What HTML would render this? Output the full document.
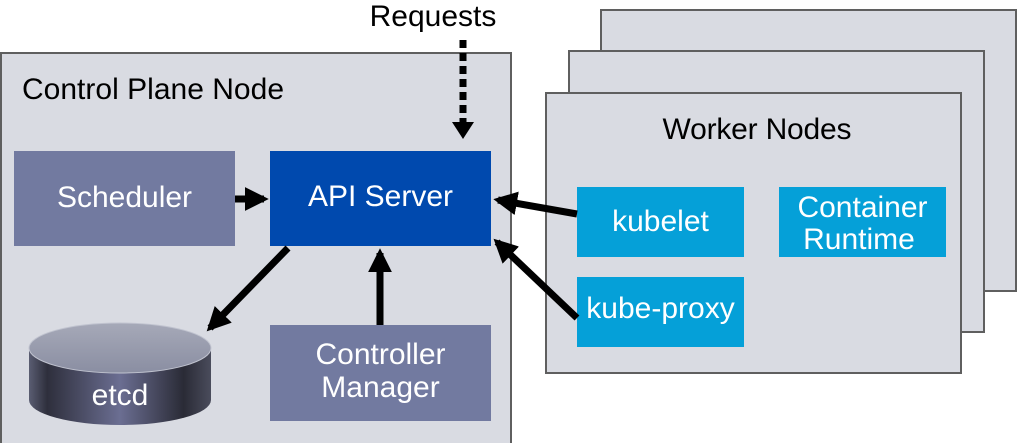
<!DOCTYPE html>
<html><head><meta charset="utf-8"><style>
html,body{margin:0;padding:0;background:#fff;}
svg{display:block;}
text{font-family:"Liberation Sans",Arial,sans-serif;font-size:30px;}
</style></head><body>
<svg width="1018" height="443" viewBox="0 0 1018 443" xmlns="http://www.w3.org/2000/svg">
<defs>
<linearGradient id="cyl" x1="0" x2="1" y1="0" y2="0">
<stop offset="0" stop-color="#5a5d72"/><stop offset="0.1" stop-color="#2e2f3c"/>
<stop offset="0.5" stop-color="#6b6e92"/><stop offset="0.85" stop-color="#2a2b36"/>
<stop offset="1" stop-color="#4a4c5c"/></linearGradient>
<linearGradient id="top" x1="0" x2="0" y1="0" y2="1">
<stop offset="0" stop-color="#a6a9b8"/><stop offset="1" stop-color="#8a8ea2"/></linearGradient>
<marker id="ah" viewBox="0 0 10 10" refX="8" refY="5" markerWidth="3.4" markerHeight="3.4" orient="auto"><path d="M0,0L10,5L0,10z" fill="#000"/></marker>
</defs>
<rect x="601" y="10" width="415" height="281" fill="#d9dbe2" stroke="#5f5f5f" stroke-width="2"/>
<rect x="569" y="51" width="415" height="281" fill="#d9dbe2" stroke="#5f5f5f" stroke-width="2"/>
<rect x="546" y="93" width="415" height="280" fill="#d9dbe2" stroke="#5f5f5f" stroke-width="2"/>
<text x="757" y="139" text-anchor="middle" textLength="189">Worker Nodes</text>
<rect x="1" y="53" width="510" height="392" fill="#d9dbe2" stroke="#5f5f5f" stroke-width="2"/>
<text x="22" y="99" textLength="262">Control Plane Node</text>
<text x="433" y="26" text-anchor="middle">Requests</text>
<line x1="463" y1="40" x2="463" y2="126" stroke="#000" stroke-width="7" stroke-dasharray="8,5"/>
<path d="M452,122L474,122L463,139z" fill="#000"/>
<rect x="14" y="151" width="221" height="95" fill="#727aa0"/>
<text x="124.5" y="207" text-anchor="middle" fill="#fff">Scheduler</text>
<rect x="270" y="151" width="221" height="95" fill="#0049ae"/>
<text x="380.5" y="206" text-anchor="middle" fill="#fff">API Server</text>
<rect x="270" y="325" width="221" height="96" fill="#727aa0"/>
<text x="380.5" y="364" text-anchor="middle" fill="#fff">Controller</text>
<text x="380.5" y="397" text-anchor="middle" fill="#fff">Manager</text>
<path d="M29,348 L29,400 A91,25 0 0 0 211,400 L211,348 Z" fill="url(#cyl)"/>
<ellipse cx="120" cy="348" rx="91" ry="25" fill="url(#top)" stroke="#c0c3cf" stroke-width="1"/>
<text x="120" y="405" text-anchor="middle" fill="#fff">etcd</text>
<rect x="577" y="187" width="167" height="70" fill="#05a0d8"/>
<text x="660.5" y="231" text-anchor="middle" fill="#fff">kubelet</text>
<rect x="779" y="187" width="167" height="70" fill="#05a0d8"/>
<text x="862.5" y="217" text-anchor="middle" fill="#fff">Container</text>
<text x="859" y="249" text-anchor="middle" fill="#fff">Runtime</text>
<rect x="577" y="277" width="167" height="70" fill="#05a0d8"/>
<text x="660.5" y="318" text-anchor="middle" fill="#fff">kube-proxy</text>
<g stroke="#000" stroke-width="7" fill="none" marker-end="url(#ah)">
<line x1="235" y1="199" x2="264" y2="199"/>
<line x1="380" y1="325" x2="380" y2="253"/>
<line x1="288" y1="248" x2="210" y2="328"/>
<line x1="577" y1="214" x2="498" y2="200"/>
<line x1="577" y1="318" x2="497" y2="242"/>
</g>
</svg>
</body></html>
